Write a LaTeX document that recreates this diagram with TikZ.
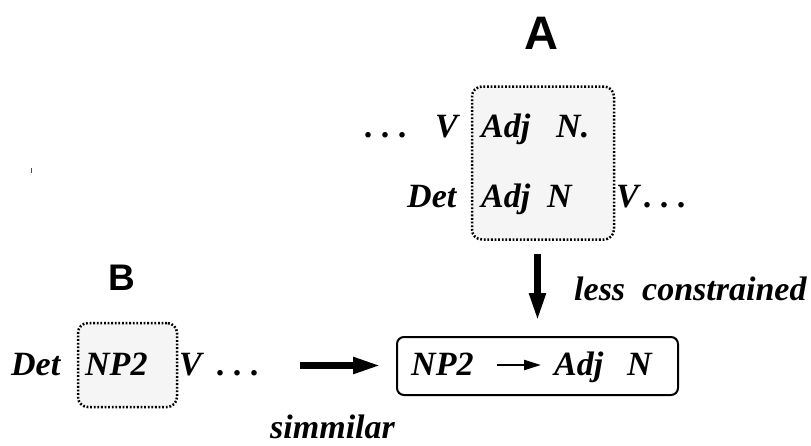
\documentclass[tikz,border=0pt]{standalone}
\usepackage{fontspec}
\setmainfont{Liberation Serif}
\newfontfamily\hvfont{Liberation Sans}
\usetikzlibrary{arrows.meta}
\begin{document}
\begin{tikzpicture}[x=1pt,y=-1pt,
  word/.style={anchor=base west, inner sep=0pt, font=\fontsize{34}{34}\selectfont\bfseries\itshape},
  biglabel/.style={inner sep=0pt, font=\hvfont\bfseries},
  dotbox/.style={draw, fill=gray!8, line width=2.5pt, dash pattern=on 1.8pt off 1.8pt, rounded corners=10pt, inner sep=0pt},
  rulebox/.style={draw, line width=2pt, rounded corners=7pt, inner sep=0pt},
  bigarrow/.style={line width=7.5pt, -{Triangle[length=29pt,width=15pt]}},
  thinarrow/.style={line width=2.2pt, -{Triangle[length=17pt,width=10pt]}}]
\useasboundingbox (0,0) rectangle (811,445);
% stray tick
\draw[line width=0.9pt, black!70] (31,168) -- (31,173);
% boxes
\node[dotbox, minimum width=142pt, minimum height=153pt] (boxA) at (543,163) {};
\node[dotbox, minimum width=99pt, minimum height=84pt] (boxB) at (127.5,365) {};
\node[rulebox, minimum width=281pt, minimum height=58pt] (ruleb) at (537.5,366) {};
% labels
\node[biglabel, font=\hvfont\bfseries\fontsize{47}{47}\selectfont] (labA) at (541,33) {A};
\node[biglabel, font=\hvfont\bfseries\fontsize{37}{37}\selectfont] (labB) at (122,277.5) {B};
% row 1 of A
\node[word] (d1) at (365,137) {.\ .\ .};
\node[word] (v1) at (435,137) {V};
\node[word] (adj1) at (481,137) {Adj};
\node[word] (n1) at (556,137) {N.};
% row 2 of A
\node[word] (det2) at (407,207) {Det};
\node[word] (adj2) at (481,207) {Adj};
\node[word] (n2) at (547,207) {N};
\node[word] (v2) at (616,207) {V};
\node[word] (d2) at (644,207) {.\ .\ .};
% B row
\node[word] (detB) at (11,375) {Det};
\node[word] (npB) at (85,375) {NP2};
\node[word] (vB) at (179,375) {V};
\node[word] (dB) at (217,375) {.\ .\ .};
% rule
\node[word] (npR) at (411,375) {NP2};
\node[word] (adjR) at (554,375) {Adj};
\node[word] (nR) at (627,375) {N};
\coordinate (ra1) at (497,365);
\coordinate (ra2) at (541,365);
\draw[thinarrow] (ra1) -- (ra2);
% side texts
\node[word] (less) at (574,300) {less\ \ constrained};
\node[word] (sim) at (270,438) {simmilar};
% arrows
\draw[bigarrow, shorten <=13pt, shorten >=14pt] (ruleb.north |- boxA.south) -- (ruleb.north);
\coordinate (hstart) at (300,365.5);
\draw[bigarrow, shorten >=14pt] (hstart) -- (ruleb.west |- hstart);
\end{tikzpicture}
\end{document}
